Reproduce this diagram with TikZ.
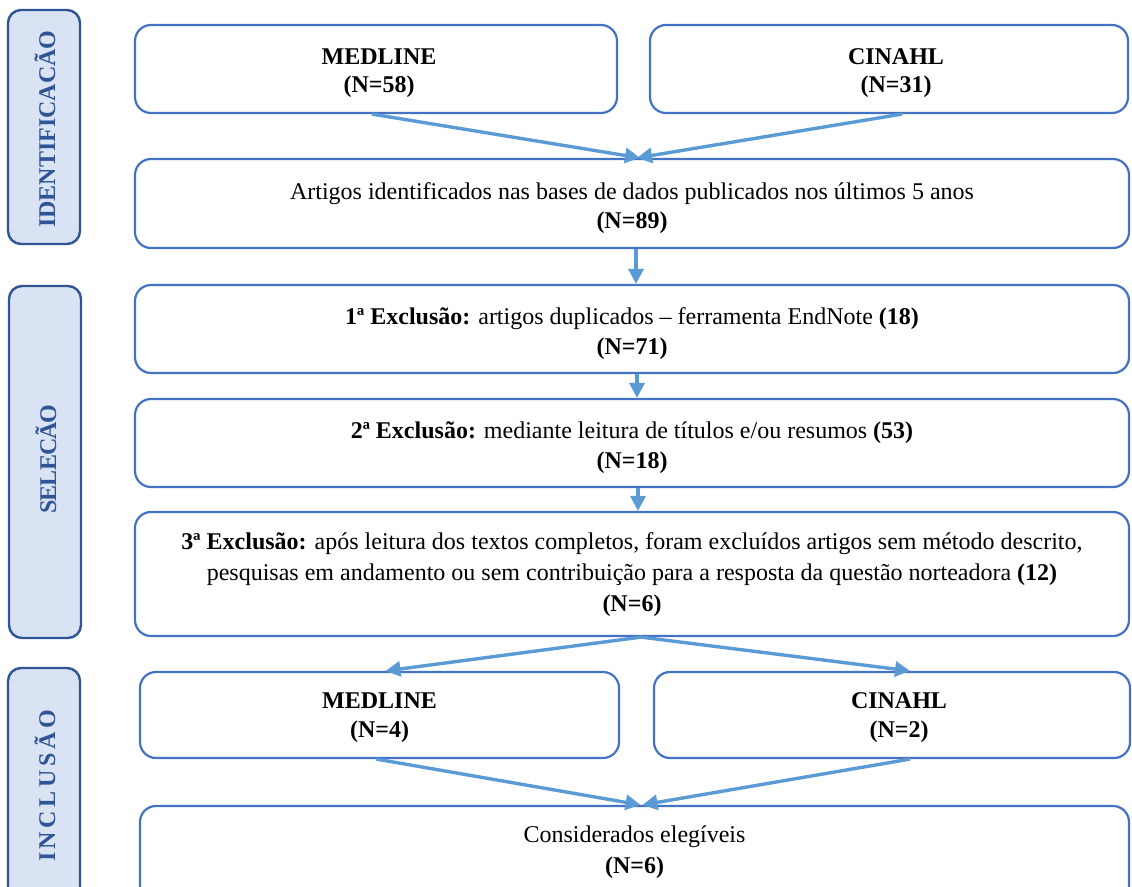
\documentclass[tikz,border=0pt]{standalone}
\usepackage{fontspec}
\setmainfont{Liberation Serif}
\usetikzlibrary{arrows.meta,calc}
\definecolor{boxline}{HTML}{4472C4}
\definecolor{arrowc}{HTML}{5B9BD5}
\definecolor{sideline}{HTML}{2F5597}
\definecolor{sidefill}{HTML}{DAE3F3}
\definecolor{sidetext}{HTML}{2F5597}
\tikzset{
  mainbox/.style={draw=boxline, line width=2.2pt, fill=white, rounded corners=16pt,
    inner sep=0pt},
  sidebox/.style={draw=sideline, line width=2.4pt, fill=sidefill, rounded corners=13pt,
    inner sep=0pt, minimum width=72pt},
  sidelabel/.style={rotate=90, text=sidetext, font=\fontsize{24}{28}\selectfont\bfseries, inner sep=0pt},
  flow/.style={draw=arrowc, line width=3.4pt, -{Triangle[length=15pt,width=15pt]}},
  plain/.style={inner sep=0pt, align=center, font=\fontsize{24}{29}\selectfont}
}
\begin{document}
\begin{tikzpicture}[x=1pt,y=-1pt]
\useasboundingbox (0,0) rectangle (1132,886);
\clip (0,0) rectangle (1132,886);

% side boxes
\node[sidebox, minimum height=234pt] (sid1) at (44,127) {};
\node[sidelabel] (sidt1) at (45,129) {IDENTIFICACÃO};
\node[sidebox, minimum height=352pt] (sid2) at (45,462) {};
\node[sidelabel] (sidt2) at (46,459) {\addfontfeature{LetterSpace=-4}SELECÃO};
\node[sidebox, minimum height=236pt] (sid3) at (44,786) {};
\node[sidelabel] (sidt3) at (45,786) {\addfontfeature{LetterSpace=15}INCLUSÃO};

% main boxes
\node[mainbox, minimum width=482pt, minimum height=88pt] (med1) at (376,69) {};
\node[mainbox, minimum width=478pt, minimum height=88pt] (cin1) at (889,69) {};
\node[mainbox, minimum width=994pt, minimum height=89pt] (art) at (632,203.5) {};
\node[mainbox, minimum width=994pt, minimum height=88pt] (ex1) at (632,329) {};
\node[mainbox, minimum width=994pt, minimum height=88pt] (ex2) at (632,443) {};
\node[mainbox, minimum width=994pt, minimum height=124pt] (ex3) at (632,574) {};
\node[mainbox, minimum width=479pt, minimum height=86pt] (med2) at (379.5,715) {};
\node[mainbox, minimum width=476pt, minimum height=86pt] (cin2) at (892,715) {};
\node[mainbox, minimum width=989pt, minimum height=120pt] (fin) at (634.5,866) {};

% texts
\node[plain] (med1t) at ([xshift=3pt,yshift=-4pt]med1.center)
  {\textbf{MEDLINE}\\[-1pt]\textbf{(N=58)}};
\node[plain] (cin1t) at ([xshift=7pt,yshift=-4pt]cin1.center)
  {\textbf{CINAHL}\\[-1pt]\textbf{(N=31)}};
\node[plain] (artt) at ([yshift=-5pt]art.center)
  {Artigos identificados nas bases de dados publicados nos últimos 5 anos\\\textbf{(N=89)}};
\node[plain] (ex1t) at ([yshift=-5pt]ex1.center)
  {\textbf{1ª Exclusão:} artigos duplicados – ferramenta EndNote \textbf{(18)}\\[1pt]\textbf{(N=71)}};
\node[plain] (ex2t) at ([yshift=-5pt]ex2.center)
  {\textbf{2ª Exclusão:} mediante leitura de títulos e/ou resumos \textbf{(53)}\\[1pt]\textbf{(N=18)}};
\node[plain] (ex3t) at ([yshift=-1pt]ex3.center)
  {\textbf{3ª Exclusão:} após leitura dos textos completos, foram excluídos artigos sem método descrito,\\[2pt]
   pesquisas em andamento ou sem contribuição para a resposta da questão norteadora \textbf{(12)}\\[2pt]\textbf{(N=6)}};
\node[plain] (med2t) at ([yshift=-3pt]med2.center)
  {\textbf{MEDLINE}\\\textbf{(N=4)}};
\node[plain] (cin2t) at ([xshift=7pt,yshift=-3pt]cin2.center)
  {\textbf{CINAHL}\\\textbf{(N=2)}};
\node[plain] (fint) at (634.5,852) {Considerados elegíveis\\[2pt]\textbf{(N=6)}};

% connectors
\draw[flow] ([xshift=-4pt]med1.south) -- ([xshift=8pt]art.north);
\draw[flow] ([xshift=13pt]cin1.south) -- ([xshift=5pt]art.north);
\draw[flow] ([xshift=4pt]art.south) -- ([xshift=4pt]ex1.north);
\draw[flow] ([xshift=5pt]ex1.south) -- ([xshift=5pt]ex2.north);
\draw[flow] ([xshift=6pt]ex2.south) -- ([xshift=6pt]ex3.north);
\draw[flow] ([xshift=9pt]ex3.south) -- ([xshift=6pt]med2.north);
\draw[flow] ([xshift=9pt]ex3.south) -- ([xshift=18pt]cin2.north);
\draw[flow] ([xshift=-3pt]med2.south) -- ([xshift=6pt]fin.north);
\draw[flow] ([xshift=18pt]cin2.south) -- ([xshift=8pt]fin.north);
\end{tikzpicture}
\end{document}
